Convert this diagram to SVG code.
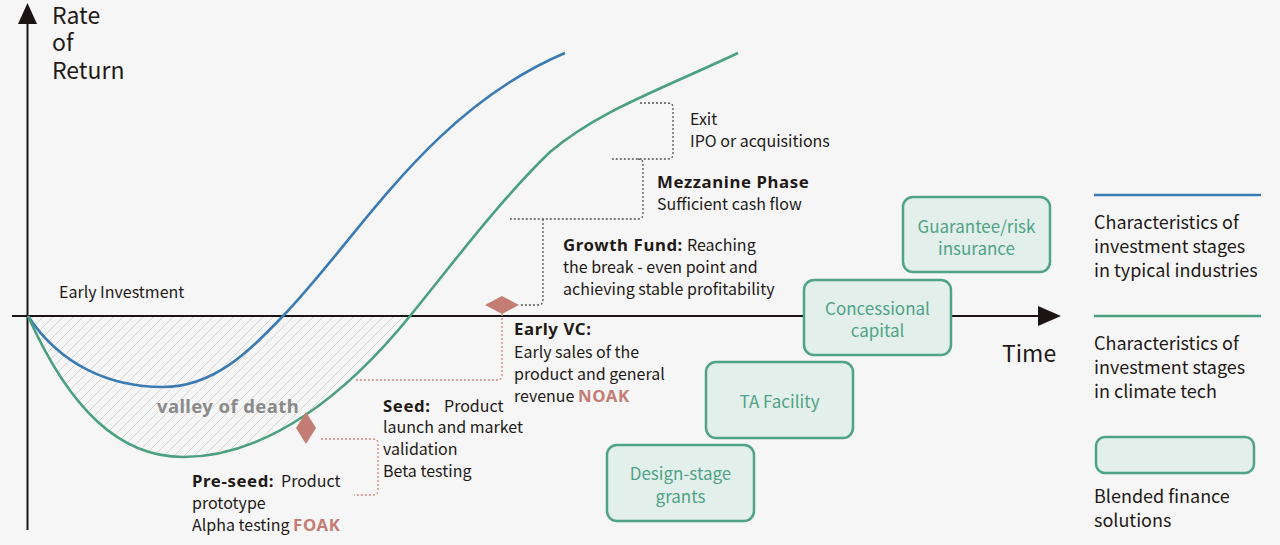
<svg xmlns="http://www.w3.org/2000/svg" width="1280" height="545" viewBox="0 0 1280 545">
<style>
text{font-family:"Noto Sans CJK SC","Noto Sans",sans-serif;fill:#1f1a17}
.t16{font-size:16px}
.b{font-weight:700;font-family:"Noto Sans",sans-serif;font-size:16.8px;letter-spacing:0.6px}
.ax{font-size:23px}
.box rect{fill:#e3efea;stroke:#4fa386;stroke-width:2.5}
.box text{fill:#4fa386;font-size:17px;text-anchor:middle}
.leg{font-size:18px}
.gd{fill:none;stroke:#555;stroke-width:1.3;stroke-dasharray:2 2}
.rd{fill:none;stroke:#d0857c;stroke-width:1.3;stroke-dasharray:2 2}
.dia{fill:#c47d74}
.red{fill:#c47d74}
</style>
<defs>
<pattern id="hatch" patternUnits="userSpaceOnUse" width="10" height="10">
<path d="M-1,1 l2,-2 M0,10 l10,-10 M9,11 l2,-2" stroke="#d6d6d6" stroke-width="1"/>
</pattern>
</defs>
<rect width="1280" height="545" fill="#f6f6f6"/>
<g id="valley">
<path d="M28,316 C70,410 120,457 183,457 C270,457 350,390 410,316 Z" fill="url(#hatch)"/>
<text x="157" y="413" style="font-size:18.5px;font-weight:700;letter-spacing:0.4px;font-family:'Noto Sans',sans-serif;fill:#8a8a8a">valley of death</text>
</g>
<g id="axes">
<line x1="27.5" y1="20" x2="27.5" y2="530" stroke="#1a1414" stroke-width="2"/>
<polygon points="27.5,3 18,24 37,24" fill="#1a1414"/>
<line x1="12" y1="316" x2="1040" y2="316" stroke="#1a1414" stroke-width="2"/>
<polygon points="1061,316 1038,306 1038,326" fill="#1a1414"/>
<text class="ax" x="52" y="24">Rate</text>
<text class="ax" x="52" y="51">of</text>
<text class="ax" x="52" y="79">Return</text>
<text class="ax" x="1002" y="362">Time</text>
<text class="t16" x="59" y="298">Early Investment</text>
</g>
<g id="curves" fill="none" stroke-width="2.6">
<path d="M28,316 C60,365 110,387 163,387 C215,387 250,350 283,316 C360,236 430,110 565,53" stroke="#3b7bb3"/>
<path d="M28,316 C70,410 120,457 183,457 C270,457 350,390 410,316 C450,267 500,200 550,152 C600,110 660,90 738,53" stroke="#4aa07f"/>
</g>
<g id="connectors">
<path class="gd" d="M640,103 H668 Q673,103 673,108 V154 Q673,159 668,159 H612"/>
<path class="gd" d="M638,159 Q643,159 643,164 V214 Q643,219 638,219 H510"/>
<path class="gd" d="M543,219 V300 Q543,305 538,305 H519"/>
<path class="rd" d="M502,314 V375 Q502,380 497,380 H355"/>
<path class="rd" d="M321,439 H373 Q378,439 378,444 V490 Q378,495 373,495 H354"/>
</g>
<g id="preseed">
<polygon class="dia" points="306,412 316,428 306,444 296,428"/>
<text class="t16" x="192" y="487"><tspan class="b">Pre-seed:</tspan><tspan x="281">Product</tspan></text>
<text class="t16" x="192" y="509">prototype</text>
<text class="t16" x="192" y="531">Alpha testing <tspan class="b red">FOAK</tspan></text>
</g>
<g id="seed">
<text class="t16" x="383" y="412"><tspan class="b">Seed:</tspan><tspan x="444">Product</tspan></text>
<text class="t16" x="383" y="433">launch and market</text>
<text class="t16" x="383" y="455">validation</text>
<text class="t16" x="383" y="477">Beta testing</text>
</g>
<g id="earlyvc">
<polygon class="dia" points="485,305 502,296 519,305 502,314"/>
<text class="t16 b" x="514" y="335">Early VC:</text>
<text class="t16" x="514" y="358">Early sales of the</text>
<text class="t16" x="514" y="380">product and general</text>
<text class="t16" x="514" y="402">revenue <tspan class="b red">NOAK</tspan></text>
</g>
<g id="growth">
<text class="t16" x="563" y="251"><tspan class="b">Growth Fund:</tspan><tspan x="687">Reaching</tspan></text>
<text class="t16" x="563" y="273">the break - even point and</text>
<text class="t16" x="563" y="295">achieving stable profitability</text>
</g>
<g id="mezzanine">
<text class="t16 b" x="657" y="188">Mezzanine Phase</text>
<text class="t16" x="657" y="210">Sufficient cash flow</text>
</g>
<g id="exit">
<text class="t16" x="690" y="125">Exit</text>
<text class="t16" x="690" y="147">IPO or acquisitions</text>
</g>
<g id="grants" class="box">
<rect x="607" y="445" width="147" height="76" rx="10"/>
<text x="680.5" y="480">Design-stage</text>
<text x="680.5" y="503">grants</text>
</g>
<g id="ta" class="box">
<rect x="706" y="362" width="147" height="76" rx="10"/>
<text x="779.5" y="408">TA Facility</text>
</g>
<g id="concessional" class="box">
<rect x="804" y="280" width="147" height="75" rx="10"/>
<text x="877.5" y="315">Concessional</text>
<text x="877.5" y="337">capital</text>
</g>
<g id="guarantee" class="box">
<rect x="903" y="197" width="147" height="75" rx="10"/>
<text x="976.5" y="233">Guarantee/risk</text>
<text x="976.5" y="255">insurance</text>
</g>
<g id="legend">
<line x1="1094" y1="195" x2="1261" y2="195" stroke="#3b7bb3" stroke-width="2.5"/>
<text class="leg" x="1094" y="229">Characteristics of</text>
<text class="leg" x="1094" y="253">investment stages</text>
<text class="leg" x="1094" y="277">in typical industries</text>
<line x1="1094" y1="316" x2="1261" y2="316" stroke="#4aa07f" stroke-width="2.5"/>
<text class="leg" x="1094" y="350">Characteristics of</text>
<text class="leg" x="1094" y="374">investment stages</text>
<text class="leg" x="1094" y="398">in climate tech</text>
<g class="box"><rect x="1096" y="437" width="158" height="36" rx="9"/></g>
<text class="leg" x="1094" y="503">Blended finance</text>
<text class="leg" x="1094" y="527">solutions</text>
</g>
</svg>
